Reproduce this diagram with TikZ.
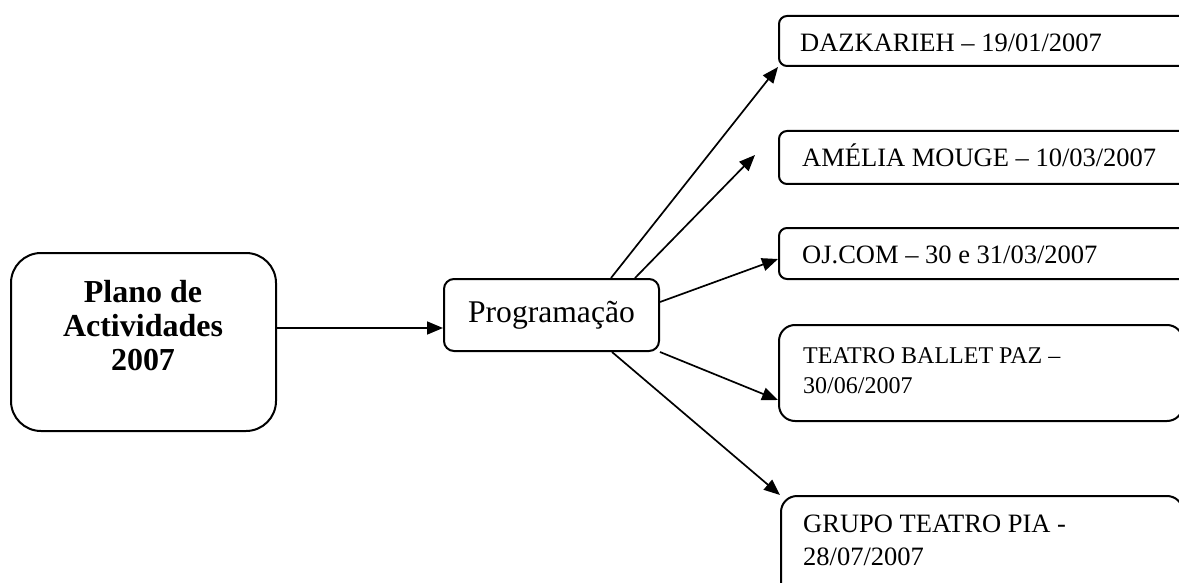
\documentclass[tikz,border=0pt]{standalone}
\usepackage{fontspec}
\setmainfont{Liberation Serif}
\usetikzlibrary{arrows.meta}
\begin{document}
\begin{tikzpicture}[x=1pt,y=-1pt,
  box/.style={draw, line width=2pt, rounded corners=#1, inner sep=0pt, anchor=north west},
  box/.default=8pt,
  rtext/.style={font=\fontsize{26.5}{33}\selectfont, anchor=base west, inner sep=0pt, align=left},
  arr/.style={-{Triangle[length=16pt,width=13pt]}, line width=1.7pt}
]
\useasboundingbox (0,0) rectangle (1179,583);
\clip (0,0) rectangle (1179,583);

% left box
\node[box=30pt, minimum width=265pt, minimum height=178pt] (plano) at (10,252) {};
\node[font=\fontsize{32}{34}\selectfont\bfseries, align=center, anchor=base, inner sep=0pt] (planot) at (143,370) {Plano de\\Actividades\\2007};

% middle box
\node[box=10pt, minimum width=215pt, minimum height=72pt, font=\fontsize{31.6}{38}\selectfont] (prog) at (443,278) {Programação};

% right boxes
\node[box=8pt, minimum width=440pt, minimum height=50pt] (daz) at (778,15) {};
\node[rtext] (dazt) at (800,52) {DAZKARIEH – 19/01/2007};

\node[box=8pt, minimum width=440pt, minimum height=53pt] (ame) at (778,130) {};
\node[rtext] (amet) at (802,167) {AMÉLIA MOUGE – 10/03/2007};

\node[box=8pt, minimum width=440pt, minimum height=51pt] (oj) at (778,227) {};
\node[rtext] (ojt) at (802,263) {OJ.COM – 30 e 31/03/2007};

\node[box=16pt, minimum width=404pt, minimum height=96pt] (tea) at (778,324) {};
\node[rtext, font=\fontsize{24}{30}\selectfont] (teat) at (803,393) {TEATRO BALLET PAZ –\\30/06/2007};

\node[box=16pt, minimum width=402pt, minimum height=120pt] (gru) at (780,495) {};
\node[rtext] (grut) at (803,565) {GRUPO TEATRO PIA -\\28/07/2007};

% connectors
\coordinate (a0) at ([yshift=-13pt]prog.west);
\draw[arr] (plano.east |- a0) -- (a0);
\draw[arr] ([xshift=168pt]prog.north west) -- (daz.south west);
\coordinate (a2e) at (755,155);
\draw[arr] ([xshift=192pt]prog.north west) -- (a2e);
\draw[arr] ([yshift=-24pt]prog.north east) -- ([yshift=-5.5pt]oj.west);
\draw[arr] (prog.south east) -- ([yshift=-27pt]tea.west);
\draw[arr] ([xshift=169pt]prog.south west) -- (gru.north west);
\end{tikzpicture}
\end{document}
